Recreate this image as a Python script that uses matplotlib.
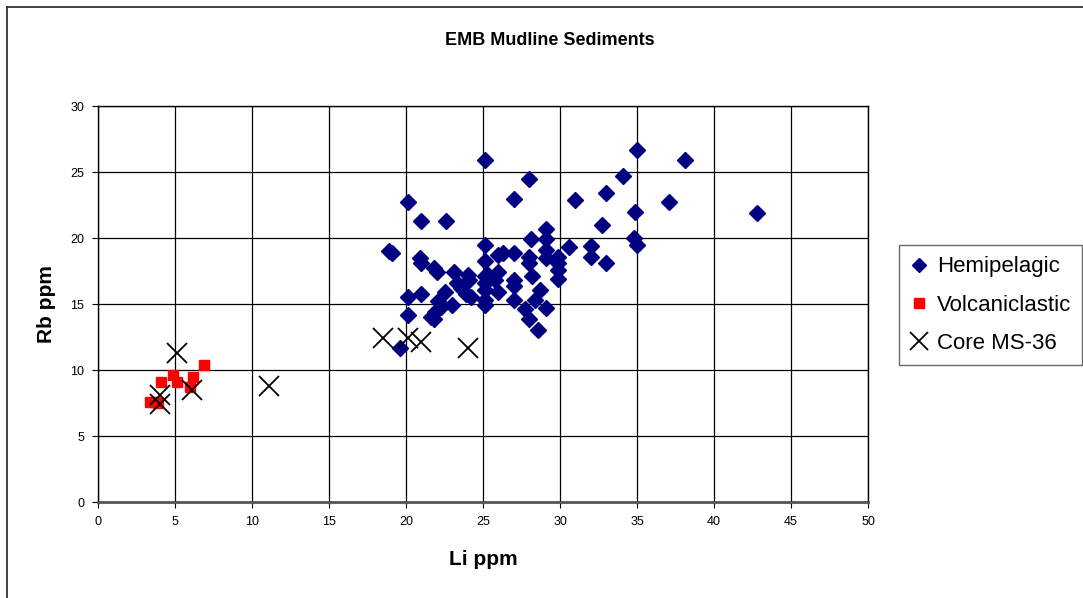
import matplotlib
matplotlib.use("Agg")
import matplotlib.pyplot as plt
from matplotlib.lines import Line2D

plt.rcParams['font.family'] = ['Liberation Sans', 'DejaVu Sans']

# Hemipelagic samples (Li ppm, Rb ppm)
hemi_li = [25.1, 28.0, 27.0, 20.1, 21.0, 22.6, 19.1, 18.9, 25.1, 28.1,
           29.1, 29.1, 26.0, 26.3, 27.0, 25.1, 28.0, 28.0, 29.1, 29.1,
           29.9, 29.9, 29.9, 29.9, 30.6, 32.0, 32.0, 33.0, 34.8, 35.0,
           35.0, 38.1, 34.1, 33.0, 31.0, 37.1, 34.9, 32.7, 42.8, 20.9,
           21.0, 21.8, 22.0, 23.1, 24.0, 24.1, 25.1, 25.3, 26.0, 25.8,
           25.1, 25.1, 25.1, 25.1, 26.0, 27.0, 27.0, 27.0, 28.2, 28.7,
           28.4, 29.1, 27.7, 28.0, 28.6, 23.3, 23.6, 23.9, 24.2, 22.5,
           20.1, 21.0, 20.1, 22.1, 22.3, 21.9, 21.6, 21.8, 23.0, 19.6]
hemi_rb = [25.9, 24.5, 23.0, 22.7, 21.3, 21.3, 18.9, 19.0, 19.5, 19.9,
           20.7, 19.9, 18.7, 18.9, 18.9, 18.3, 18.6, 18.1, 19.1, 18.5,
           18.6, 18.1, 17.6, 16.9, 19.3, 19.4, 18.6, 18.1, 20.0, 19.5,
           26.7, 25.9, 24.7, 23.4, 22.9, 22.7, 22.0, 21.0, 21.9, 18.5,
           18.1, 17.7, 17.4, 17.4, 17.2, 16.8, 17.1, 17.2, 17.4, 16.8,
           16.6, 16.1, 15.3, 14.9, 15.9, 16.8, 16.4, 15.3, 17.1, 16.1,
           15.3, 14.7, 14.6, 13.9, 13.0, 16.6, 16.2, 15.8, 15.5, 15.9,
           15.5, 15.8, 14.2, 15.2, 14.8, 14.4, 14.0, 13.9, 14.9, 11.7]

# Volcaniclastic samples
volc_li = [6.9, 4.9, 5.1, 4.1, 6.2, 6.0, 3.4, 3.9, 3.7]
volc_rb = [10.4, 9.6, 9.1, 9.1, 9.5, 8.7, 7.6, 7.5, 7.6]

# Core MS-36
core_li = [5.1, 4.0, 4.0, 6.1, 11.1, 18.5, 20.1, 21.0, 24.0]
core_rb = [11.3, 8.1, 7.4, 8.5, 8.8, 12.4, 12.4, 12.1, 11.7]

x_ticks = [0, 5, 10, 15, 20, 25, 30, 35, 40, 45, 50]
y_ticks = [0, 5, 10, 15, 20, 25, 30]

fig = plt.figure(figsize=(10.83, 5.98), dpi=100)
ax = fig.add_axes([0.0905, 0.1605, 0.711, 0.662])

ax.plot(hemi_li, hemi_rb, linestyle='none', marker='D', markersize=8,
        color='#000080', label='Hemipelagic', zorder=3)
ax.plot(volc_li, volc_rb, linestyle='none', marker='s', markersize=7,
        color='#ff0000', label='Volcaniclastic', zorder=3)
ax.plot(core_li, core_rb, linestyle='none', marker='x', markersize=15,
        markeredgewidth=1.3, color='black', label='Core MS-36', zorder=4)

ax.set_xlim(0, 50)
ax.set_ylim(0, 30)
ax.set_xticks(x_ticks)
ax.set_yticks(y_ticks)
ax.grid(True, color='black', linewidth=0.9)
ax.set_axisbelow(True)
for s in ax.spines.values():
    s.set_color('black')
    s.set_linewidth(1.0)
ax.spines['bottom'].set_color('#555555')
ax.spines['bottom'].set_linewidth(2)
ax.tick_params(direction='out', length=4, width=0.8, labelsize=9, pad=6)

ax.set_xlabel('Li ppm', fontsize=15, fontweight='bold', labelpad=16)
ax.set_ylabel('Rb ppm', fontsize=15, fontweight='bold', labelpad=10)
fig.text(0.508, 0.933, 'EMB Mudline Sediments', ha='center', va='center',
         fontsize=13, fontweight='bold')

leg = fig.legend(loc='upper left', bbox_to_anchor=(0.830, 0.590),
                 fontsize=16, frameon=True, fancybox=False, edgecolor='#444444',
                 handlelength=0.8, handletextpad=0.4, borderpad=0.5,
                 labelspacing=0.78, borderaxespad=0)
leg.get_frame().set_linewidth(1.0)
for h in leg.legend_handles:
    h.set_markersize(7 if h.get_marker() != 'x' else 13)

# outer chart frame
fig.add_artist(Line2D([0.0065, 0.0065], [0.0, 0.988], color='#333333', linewidth=1.3))
fig.add_artist(Line2D([0.0065, 1.0], [0.988, 0.988], color='#333333', linewidth=1.3))

fig.savefig('out.png', dpi=100)
